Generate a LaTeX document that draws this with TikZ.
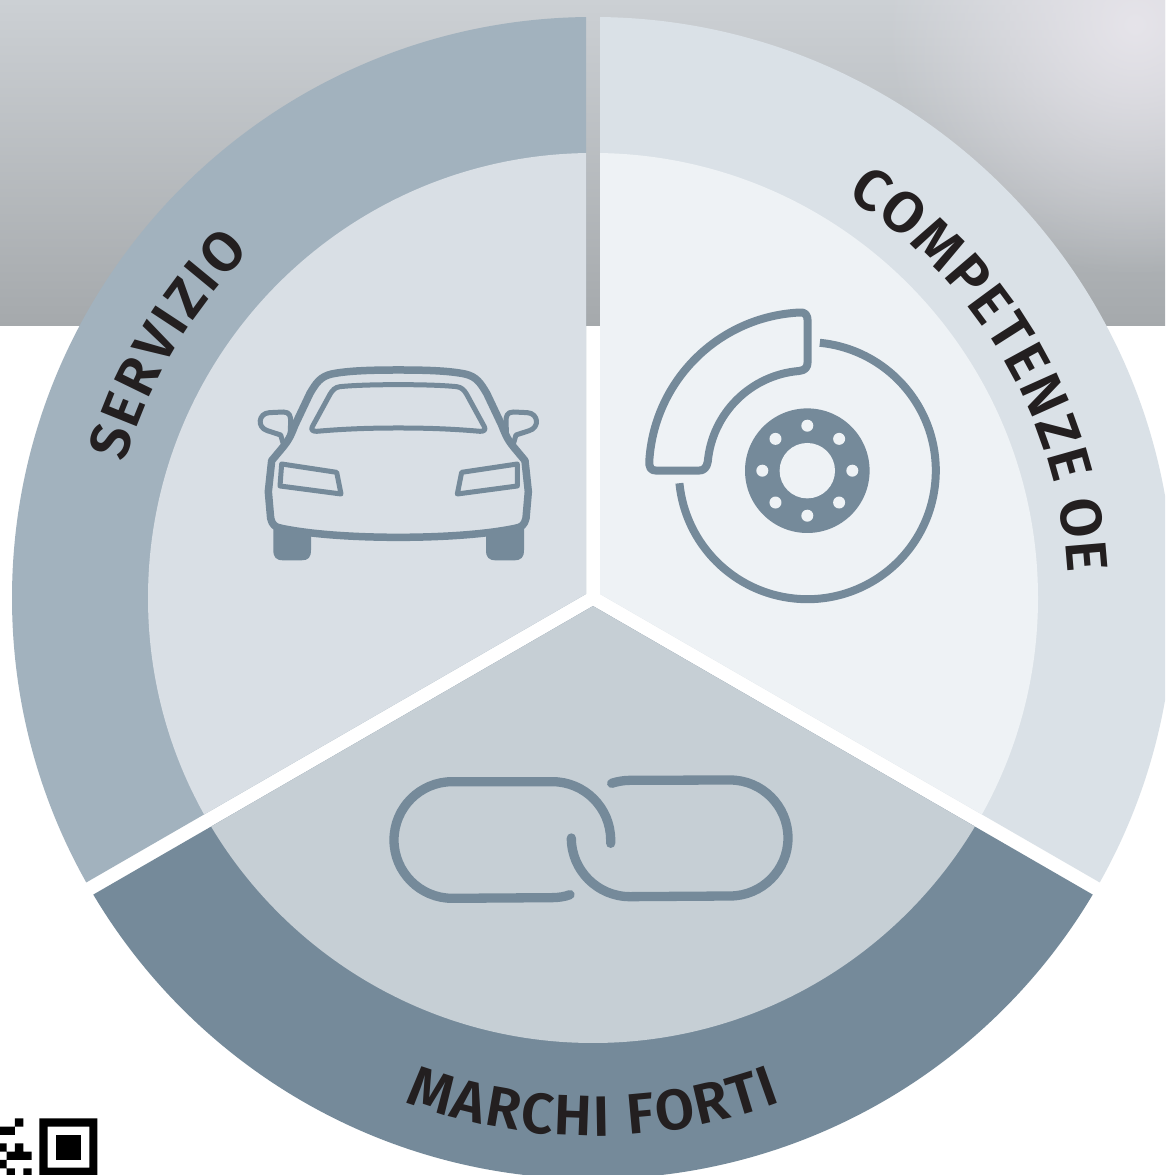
\documentclass[tikz,border=0pt]{standalone}
\usepackage{fontspec}
\newfontfamily\din{Fira Sans SemiBold}
\usetikzlibrary{calc,decorations.text,fadings}
\definecolor{ringL}{HTML}{A2B2BE}
\definecolor{innerL}{HTML}{D9DFE5}
\definecolor{ringR}{HTML}{DAE1E7}
\definecolor{innerR}{HTML}{EEF2F5}
\definecolor{ringB}{HTML}{758A9A}
\definecolor{innerB}{HTML}{C6CFD5}
\definecolor{icon}{HTML}{758A9A}
\definecolor{inkc}{HTML}{231F20}
\definecolor{bgTop}{HTML}{CCD0D4}
\definecolor{bgTopR}{HTML}{E6E4EA}
\definecolor{bgBot}{HTML}{A5A9AC}
\tikzfading[name=cornerglow,inner color=transparent!0,outer color=transparent!100]
\tikzset{
  px/.style={shift={(0,1175)},yscale=-1},
  zm/.style={shift={#1},scale=1/3},
  iconline/.style={draw=icon,line width=#1,line join=round},
  arclabel/.style 2 args={decorate,decoration={text along path,text={|\din\fontsize{#1}{#1}\selectfont\color{inkc}|#2},text align={fit to path}}},
}
\begin{document}
\begin{tikzpicture}[x=1pt,y=1pt]
\useasboundingbox (0,0) rectangle (1165,1175);
\clip (0,0) rectangle (1165,1175);
\fill[white] (0,0) rectangle (1165,1175);
% grey band
\shade[top color=bgTop,bottom color=bgBot] (0,849) rectangle (1165,1175);
\begin{scope}
\clip (0,849) rectangle (1165,1175);
\fill[bgTopR,path fading=cornerglow] (1135,1150) circle[radius=250];
\end{scope}
\coordinate (C) at (593,577);
\coordinate (AL) at ($(C)+(150:8.08)$);
\coordinate (AR) at ($(C)+(30:8.08)$);
\coordinate (AB) at ($(C)+(270:8.08)$);
% left sector
\begin{scope}
\clip (AL) -- ($(AL)+(90:1400)$) -- ($(AL)+(150:1400)$) -- ($(AL)+(210:1400)$) -- cycle;
\fill[ringL] (C) circle[radius=581];
\fill[innerL] (C) circle[radius=445];
\end{scope}
% right sector
\begin{scope}
\clip (AR) -- ($(AR)+(90:1400)$) -- ($(AR)+(30:1400)$) -- ($(AR)+(-30:1400)$) -- cycle;
\fill[ringR] (C) circle[radius=581];
\fill[innerR] (C) circle[radius=445];
\end{scope}
% bottom sector
\begin{scope}
\clip (AB) -- ($(AB)+(210:1400)$) -- ($(AB)+(270:1400)$) -- ($(AB)+(330:1400)$) -- cycle;
\fill[ringB] (C) circle[radius=581];
\fill[innerB] (C) circle[radius=445];
\end{scope}
% labels
\path[arclabel={56}{SERVIZIO}] (C) ++(163.9:487) arc[start angle=163.9,end angle=134.7,radius=487];
\path[arclabel={58}{COMPETENZE OE}] (C) ++(57.7:475) arc[start angle=57.7,end angle=3.0,radius=475];
\path[arclabel={57}{MARCHI FORTI}] (C) ++(249.5:538) arc[start angle=249.5,end angle=290.5,radius=538];
\begin{scope}[px]
% car
\begin{scope}[zm={(240,350)}]
\fill[icon] (100,525) -- (100,600) .. controls (100,622) and (108,631) .. (130,631) -- (185,631) .. controls (205,631) and (213,622) .. (213,600) -- (213,550) -- cycle;
\fill[icon] (738,550) -- (738,600) .. controls (738,622) and (746,631) .. (768,631) -- (822,631) .. controls (844,631) and (852,622) .. (852,600) -- (852,525) -- cycle;
\draw[iconline=7.5pt,fill=innerL] (475,60) .. controls (380,60) and (320,63) .. (275,72) .. controls (240,80) and (228,100) .. (210,130) -- (165,225) .. controls (155,250) and (150,265) .. (130,290) -- (95,332) -- (85,425) -- (92,505) .. controls (97,525) and (105,532) .. (125,535) .. controls (220,555) and (360,562) .. (475,562) .. controls (590,562) and (730,555) .. (825,535) .. controls (845,532) and (853,525) .. (858,505) -- (865,425) -- (855,332) -- (820,290) .. controls (800,265) and (795,250) .. (785,225) -- (740,130) .. controls (722,100) and (710,80) .. (675,72) .. controls (630,63) and (570,60) .. (475,60) -- cycle;
\draw[iconline=5pt] (475,104) .. controls (400,104) and (340,106) .. (300,110) .. controls (285,112) and (278,120) .. (270,133) -- (217,230) .. controls (212,240) and (218,244) .. (230,244) .. controls (320,236) and (400,234) .. (475,234) .. controls (550,234) and (630,236) .. (720,244) .. controls (732,244) and (738,240) .. (733,230) -- (680,133) .. controls (672,120) and (665,112) .. (650,110) .. controls (610,106) and (550,104) .. (475,104) -- cycle;
\draw[iconline=5pt] (130,282) -- (122,255) -- (82,242) .. controls (50,232) and (55,190) .. (88,188) -- (130,186) .. controls (150,186) and (152,200) .. (152,215) -- (150,262);
\draw[iconline=5pt] (820,282) -- (828,255) -- (868,242) .. controls (900,232) and (895,190) .. (862,188) -- (820,186) .. controls (800,186) and (798,200) .. (798,215) -- (800,262);
\draw[iconline=5pt] (125,342) -- (290,367) -- (303,432) -- (120,408) -- cycle;
\draw[iconline=5pt] (832,342) -- (665,367) -- (652,432) -- (832,408) -- cycle;
\end{scope}
% brake disc
\coordinate (D) at (807.3,470.7);
\draw[draw=icon,line width=8pt] (D) ++(-84.4:128.5) arc[start angle=-84.4,end angle=174.4,radius=128.5];
\fill[icon] (D) circle[radius=62.3];
\fill[innerR] (D) circle[radius=27.7];
\foreach \a in {0,45,...,315}{\fill[innerR] (D) ++(\a:45) circle[radius=6];}
\begin{scope}[zm={(630,295)}]
\draw[iconline=8pt] (532,527) ++(184:475) arc[start angle=184,end angle=267,radius=475] .. controls (525,50) and (533,60) .. (533,78) -- (533,200) .. controls (533,218) and (525,226) .. (507,228) arc[start angle=265.2,end angle=185.1,radius=300] .. controls (230,518) and (222,527) .. (205,527) -- (80,527) .. controls (62,527) and (56,518) .. (58.2,494) -- cycle;
\end{scope}
% chain
\begin{scope}[zm={(375,760)}]
\draw[iconline=9.3pt,line cap=round] (585,404) .. controls (570,410) and (550,413) .. (530,413) -- (232,415) arc[start angle=90,end angle=270,radius=175] -- (532,65) arc[start angle=-90,end angle=0,radius=175] -- (707,250);
\draw[iconline=9.3pt,line cap=round] (710,70) .. controls (725,65) and (745,61) .. (765,61) -- (1065,60) arc[start angle=-90,end angle=90,radius=174] -- (765,410) arc[start angle=90,end angle=180,radius=176];
\end{scope}
% QR fragment
\begin{scope}[zm={(0,1095)}]
\fill[black,even odd rule] (118,70) rectangle (292,245) (143,95) rectangle (268,218);
\fill[black] (168,120) rectangle (243,195);
\fill[black] (45,70) rectangle (70,95) (0,95) rectangle (45,120) (0,145) rectangle (20,170) (45,145) rectangle (70,170) (20,170) rectangle (95,195) (0,195) rectangle (20,220) (20,220) rectangle (45,245) (70,220) rectangle (95,245);
\end{scope}
\end{scope}
\end{tikzpicture}
\end{document}
